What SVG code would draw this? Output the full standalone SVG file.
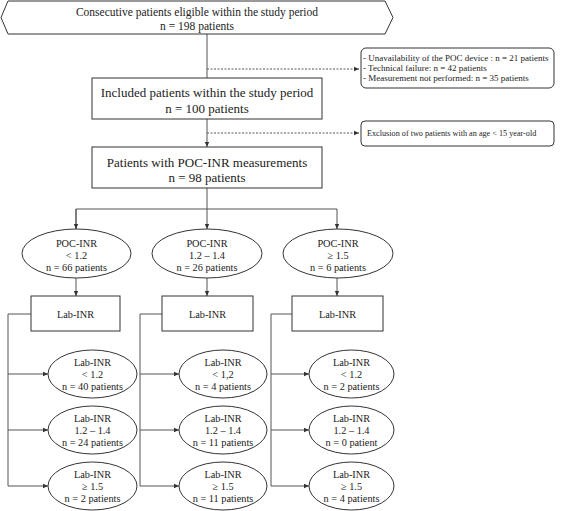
<svg xmlns="http://www.w3.org/2000/svg" width="567" height="511" viewBox="0 0 567 511">
<style>
.n{fill:#fff;stroke:#333;stroke-width:1}
.t{font-family:"Liberation Serif","Times New Roman",serif;fill:#222;text-anchor:middle}
.l{fill:none;stroke:#555;stroke-width:1}
.d{fill:none;stroke:#555;stroke-width:1;stroke-dasharray:2 1.5}
.s{font-family:"Liberation Serif","Times New Roman",serif;fill:#222}
</style>
<defs>
<marker id="a" markerWidth="6" markerHeight="6" refX="5" refY="3" orient="auto" markerUnits="userSpaceOnUse">
<path d="M0,0.8 L5,3 L0,5.2 Z" fill="#333"/>
</marker>
</defs>
<rect width="567" height="511" fill="#fff"/>
<g id="connectors">
<path class="l" d="M207,34 V78"/>
<path class="d" d="M207,69 H359" marker-end="url(#a)"/>
<path class="l" d="M207,119 V147" marker-end="url(#a)"/>
<path class="d" d="M207,133 H359" marker-end="url(#a)"/>
<path class="l" d="M207,188 V229" marker-end="url(#a)"/>
<path class="l" d="M76,229 V209 H337 V229" marker-end="url(#a)"/>
<path class="l" d="M76,209 V229" marker-end="url(#a)"/>
<path class="l" d="M76,278 V296" marker-end="url(#a)"/>
<path class="l" d="M207,278 V296" marker-end="url(#a)"/>
<path class="l" d="M337,278 V296" marker-end="url(#a)"/>
<path class="l" d="M31,314 H8 V486 H48" marker-end="url(#a)"/>
<path class="l" d="M8,374 H48" marker-end="url(#a)"/>
<path class="l" d="M8,430 H48" marker-end="url(#a)"/>
<path class="l" d="M162,314 H140 V486 H179" marker-end="url(#a)"/>
<path class="l" d="M140,374 H179" marker-end="url(#a)"/>
<path class="l" d="M140,430 H179" marker-end="url(#a)"/>
<path class="l" d="M292,314 H271 V486 H309" marker-end="url(#a)"/>
<path class="l" d="M271,374 H309" marker-end="url(#a)"/>
<path class="l" d="M271,430 H309" marker-end="url(#a)"/>
</g>
<g id="eligible">
<polygon class="n" points="1,17.5 8,1 385,1 393,17.5 385,34 8,34"/>
<text class="t" x="197" y="16" font-size="11.5">Consecutive patients eligible within the study period</text>
<text class="t" x="197" y="29.5" font-size="11.5">n = 198 patients</text>
</g>
<g id="excluded1">
<rect class="n" x="361" y="48" width="193" height="40" rx="5"/>
<text class="s" x="363" y="61" font-size="9">- Unavailability of the POC device : n = 21 patients</text>
<text class="s" x="363" y="71" font-size="9">- Technical failure: n = 42 patients</text>
<text class="s" x="363" y="81" font-size="9">- Measurement not performed: n = 35 patients</text>
</g>
<g id="included">
<rect class="n" x="92" y="78" width="230" height="41"/>
<text class="t" x="207" y="96.5" font-size="13">Included patients within the study period</text>
<text class="t" x="207" y="112.5" font-size="13">n = 100 patients</text>
</g>
<g id="excluded2">
<rect class="n" x="361" y="121" width="193" height="25" rx="4"/>
<text class="s" x="367" y="136" font-size="8.2">Exclusion of two patients with an age &lt; 15 year-old</text>
</g>
<g id="poc">
<rect class="n" x="92" y="147" width="230" height="41"/>
<text class="t" x="207" y="166.5" font-size="13">Patients with POC-INR measurements</text>
<text class="t" x="207" y="181.5" font-size="13">n = 98 patients</text>
</g>
<g id="poc1">
<ellipse class="n" cx="76.5" cy="253.5" rx="54.5" ry="24.5"/>
<text class="t" x="76.5" y="246.5" font-size="10.3">POC-INR</text>
<text class="t" x="76.5" y="258.5" font-size="10.3">&lt; 1.2</text>
<text class="t" x="76.5" y="270.5" font-size="10.3">n = 66 patients</text>
</g>
<g id="poc2">
<ellipse class="n" cx="207" cy="253.5" rx="55" ry="24.5"/>
<text class="t" x="207" y="246.5" font-size="10.3">POC-INR</text>
<text class="t" x="207" y="258.5" font-size="10.3">1.2 – 1.4</text>
<text class="t" x="207" y="270.5" font-size="10.3">n = 26 patients</text>
</g>
<g id="poc3">
<ellipse class="n" cx="338" cy="253.5" rx="55" ry="24.5"/>
<text class="t" x="338" y="246.5" font-size="10.3">POC-INR</text>
<text class="t" x="338" y="258.5" font-size="10.3">≥ 1.5</text>
<text class="t" x="338" y="270.5" font-size="10.3">n = 6 patients</text>
</g>
<g id="lab1">
<rect class="n" x="31" y="296" width="89" height="35"/>
<text class="t" x="75.5" y="317.5" font-size="10.3">Lab-INR</text>
</g>
<g id="lab2">
<rect class="n" x="162" y="296" width="91" height="35"/>
<text class="t" x="207.5" y="317.5" font-size="10.3">Lab-INR</text>
</g>
<g id="lab3">
<rect class="n" x="292" y="296" width="91" height="35"/>
<text class="t" x="337.5" y="317.5" font-size="10.3">Lab-INR</text>
</g>
<g id="r11">
<ellipse class="n" cx="92.5" cy="374" rx="44.5" ry="24"/>
<text class="t" x="92.5" y="365.5" font-size="10.3">Lab-INR</text>
<text class="t" x="92.5" y="377.5" font-size="10.3">&lt; 1.2</text>
<text class="t" x="92.5" y="389.5" font-size="10.3">n = 40 patients</text>
</g>
<g id="r12">
<ellipse class="n" cx="92.5" cy="430" rx="44.5" ry="24"/>
<text class="t" x="92.5" y="421.5" font-size="10.3">Lab-INR</text>
<text class="t" x="92.5" y="433.5" font-size="10.3">1.2 – 1.4</text>
<text class="t" x="92.5" y="445.5" font-size="10.3">n = 24 patients</text>
</g>
<g id="r13">
<ellipse class="n" cx="92.5" cy="486" rx="44.5" ry="24"/>
<text class="t" x="92.5" y="477.5" font-size="10.3">Lab-INR</text>
<text class="t" x="92.5" y="489.5" font-size="10.3">≥ 1.5</text>
<text class="t" x="92.5" y="501.5" font-size="10.3">n = 2 patients</text>
</g>
<g id="r21">
<ellipse class="n" cx="223" cy="374" rx="44" ry="24"/>
<text class="t" x="223" y="365.5" font-size="10.3">Lab-INR</text>
<text class="t" x="223" y="377.5" font-size="10.3">&lt; 1,2</text>
<text class="t" x="223" y="389.5" font-size="10.3">n = 4 patients</text>
</g>
<g id="r22">
<ellipse class="n" cx="223" cy="430" rx="44" ry="24"/>
<text class="t" x="223" y="421.5" font-size="10.3">Lab-INR</text>
<text class="t" x="223" y="433.5" font-size="10.3">1.2 – 1.4</text>
<text class="t" x="223" y="445.5" font-size="10.3">n = 11 patients</text>
</g>
<g id="r23">
<ellipse class="n" cx="223" cy="486" rx="44" ry="24"/>
<text class="t" x="223" y="477.5" font-size="10.3">Lab-INR</text>
<text class="t" x="223" y="489.5" font-size="10.3">≥ 1.5</text>
<text class="t" x="223" y="501.5" font-size="10.3">n = 11 patients</text>
</g>
<g id="r31">
<ellipse class="n" cx="351.5" cy="374" rx="42.5" ry="24"/>
<text class="t" x="351.5" y="365.5" font-size="10.3">Lab-INR</text>
<text class="t" x="351.5" y="377.5" font-size="10.3">&lt; 1.2</text>
<text class="t" x="351.5" y="389.5" font-size="10.3">n = 2 patients</text>
</g>
<g id="r32">
<ellipse class="n" cx="351.5" cy="430" rx="42.5" ry="24"/>
<text class="t" x="351.5" y="421.5" font-size="10.3">Lab-INR</text>
<text class="t" x="351.5" y="433.5" font-size="10.3">1.2 – 1.4</text>
<text class="t" x="351.5" y="445.5" font-size="10.3">n = 0 patient</text>
</g>
<g id="r33">
<ellipse class="n" cx="351.5" cy="486" rx="42.5" ry="24"/>
<text class="t" x="351.5" y="477.5" font-size="10.3">Lab-INR</text>
<text class="t" x="351.5" y="489.5" font-size="10.3">≥ 1.5</text>
<text class="t" x="351.5" y="501.5" font-size="10.3">n = 4 patients</text>
</g>
</svg>
